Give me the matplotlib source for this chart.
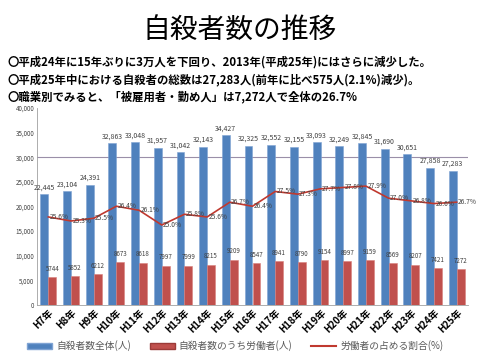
import matplotlib
matplotlib.use("Agg")
import matplotlib.pyplot as plt
import numpy as np
from matplotlib.lines import Line2D
from matplotlib.patches import Patch

plt.rcParams['font.family'] = ['Noto Sans CJK JP', 'DejaVu Sans']

years = ["H7年", "H8年", "H9年", "H10年", "H11年", "H12年", "H13年", "H14年", "H15年", "H16年",
         "H17年", "H18年", "H19年", "H20年", "H21年", "H22年", "H23年", "H24年", "H25年"]
total = [22445, 23104, 24391, 32863, 33048, 31957, 31042, 32143, 34427, 32325,
         32552, 32155, 33093, 32249, 32845, 31690, 30651, 27858, 27283]
workers = [5744, 5852, 6212, 8673, 8618, 7997, 7999, 8215, 9209, 8547,
           8941, 8790, 9154, 8997, 9159, 8569, 8207, 7421, 7272]
ratio = [25.6, 25.3, 25.5, 26.4, 26.1, 25.0, 25.8, 25.6, 26.7, 26.4,
         27.5, 27.3, 27.7, 27.8, 27.9, 27.0, 26.8, 26.6, 26.7]
yticks = [0, 5000, 10000, 15000, 20000, 25000, 30000, 35000, 40000]

title = "自殺者数の推移"
lines = ["〇平成24年に15年ぶりに3万人を下回り、2013年(平成25年)にはさらに減少した。",
         "〇平成25年中における自殺者の総数は27,283人(前年に比べ575人(2.1%)減少)。",
         "〇職業別でみると、「被雇用者・勤め人」は7,272人で全体の26.7%"]
legend_labels = ["自殺者数全体(人)", "自殺者数のうち労働者(人)", "労働者の占める割合(%)"]

blue = "#4F81BD"
red = "#C0504D"
txt = "#404040"

fig = plt.figure(figsize=(4.8, 3.6), dpi=100)
fig.patch.set_facecolor("white")

fig.text(0.5, 1 - 30/360, title, ha="center", va="center", fontsize=20)
for i, (s, yy) in enumerate(zip(lines, [62, 80, 97])):
    fig.text(8/480, 1 - yy/360, s, ha="left", va="center", fontsize=8.2, fontweight="bold")

ax = fig.add_axes([37/480, 1 - 305/360, 431/480, (305 - 108)/360])
x = np.arange(len(years))
w = 0.35
ax.bar(x - w/2, total, width=w, color=blue, edgecolor="#7FA3D3", linewidth=0.4, zorder=2)
ax.bar(x + w/2, workers, width=w, color=red, edgecolor="#D9807D", linewidth=0.4, zorder=2)
ax.axhline(30000, color="#9A8FA8", linewidth=0.8, zorder=1)

for xi, v in zip(x, total):
    ax.annotate(f"{v:,}", (xi - w/2, v), xytext=(0, 2), textcoords="offset points",
                ha="center", va="bottom", fontsize=5, color=txt)
for xi, v in zip(x, workers):
    ax.annotate(f"{v}", (xi + w/2, v), xytext=(0, 3), textcoords="offset points",
                ha="center", va="bottom", fontsize=4.5, color=txt)

ax.set_xlim(-0.5, len(years) - 0.5)
ax.set_ylim(0, 40000)
ax.set_yticks(yticks)
ax.set_yticklabels([f"{t:,}" for t in yticks], fontsize=4.5, color=txt)
ax.set_xticks(x)
ax.set_xticklabels(years, rotation=45, ha="right", rotation_mode="anchor",
                   fontsize=7, fontweight="bold")
ax.tick_params(axis="both", length=0, pad=2)
for sp in ["top", "right"]:
    ax.spines[sp].set_visible(False)
ax.spines["left"].set_color("#A0A0A0")
ax.spines["left"].set_linewidth(0.6)
ax.spines["bottom"].set_color("#A0A0A0")
ax.spines["bottom"].set_linewidth(0.6)

ax2 = ax.twinx()
ax2.plot(x, ratio, color="#C0392F", linewidth=1.2, zorder=3)
ax2.set_ylim(19.03, 33.73)
ax2.axis("off")
for xi, v in zip(x, ratio):
    ax2.annotate(f"{v:.1f}%", (xi, v), xytext=(1, 0), textcoords="offset points",
                 ha="left", va="center", fontsize=4.8, color=txt)

handles = [Patch(facecolor=blue, edgecolor="#7FA3D3"),
           Patch(facecolor=red, edgecolor="#9B3B38"),
           Line2D([0], [0], color="#C0392F", linewidth=1.5)]
fig.legend(handles, legend_labels, loc="center", bbox_to_anchor=(0.49, 1 - 346/360),
           ncol=3, frameon=False, fontsize=7, handlelength=2.6, handleheight=0.7,
           columnspacing=1.9, handletextpad=0.4, labelcolor="#595959")

fig.savefig("out.png", dpi=100)
